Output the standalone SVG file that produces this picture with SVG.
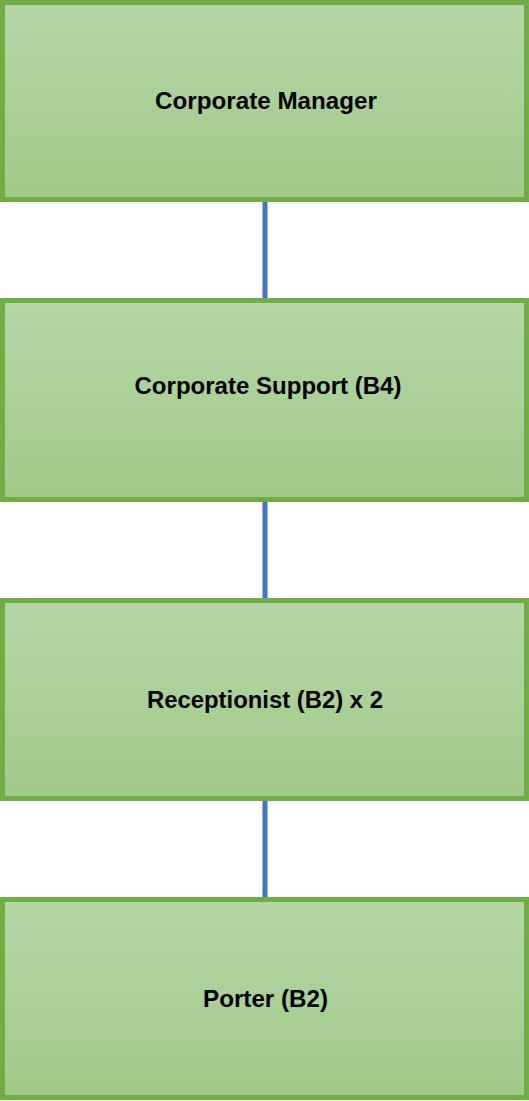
<svg xmlns="http://www.w3.org/2000/svg" width="529" height="1101" viewBox="0 0 529 1101">
<defs>
<linearGradient id="g" x1="0" y1="0" x2="0" y2="1">
<stop offset="0" stop-color="#b6d6a7"/>
<stop offset="1" stop-color="#a1ca89"/>
</linearGradient>
<style>
.box{fill:url(#g);stroke:#70ad47;stroke-width:5}
.lbl{font-family:"Liberation Sans",Arial,sans-serif;font-weight:bold;font-size:23px;fill:#000;text-anchor:middle}
.con{stroke:#4472c4;stroke-width:5;fill:none}
</style>
</defs>
<rect width="529" height="1101" fill="#fff"/>
<g id="connectors">
<line class="con" x1="265" y1="202" x2="265" y2="298"/>
<line class="con" x1="265" y1="502" x2="265" y2="598"/>
<line class="con" x1="265" y1="801" x2="265" y2="897"/>
</g>
<g id="node1">
<rect class="box" x="2.5" y="2.5" width="524" height="197"/>
<text class="lbl" x="266" y="109" textLength="222" lengthAdjust="spacingAndGlyphs">Corporate Manager</text>
</g>
<g id="node2">
<rect class="box" x="2.5" y="300.5" width="524" height="199"/>
<text class="lbl" x="268" y="394" textLength="267" lengthAdjust="spacingAndGlyphs">Corporate Support (B4)</text>
</g>
<g id="node3">
<rect class="box" x="2.5" y="600.5" width="524" height="198"/>
<text class="lbl" x="265" y="708" textLength="236" lengthAdjust="spacingAndGlyphs">Receptionist (B2) x 2</text>
</g>
<g id="node4">
<rect class="box" x="2.5" y="899.5" width="524" height="198"/>
<text class="lbl" x="265.5" y="1007" textLength="125" lengthAdjust="spacingAndGlyphs">Porter (B2)</text>
</g>
</svg>
